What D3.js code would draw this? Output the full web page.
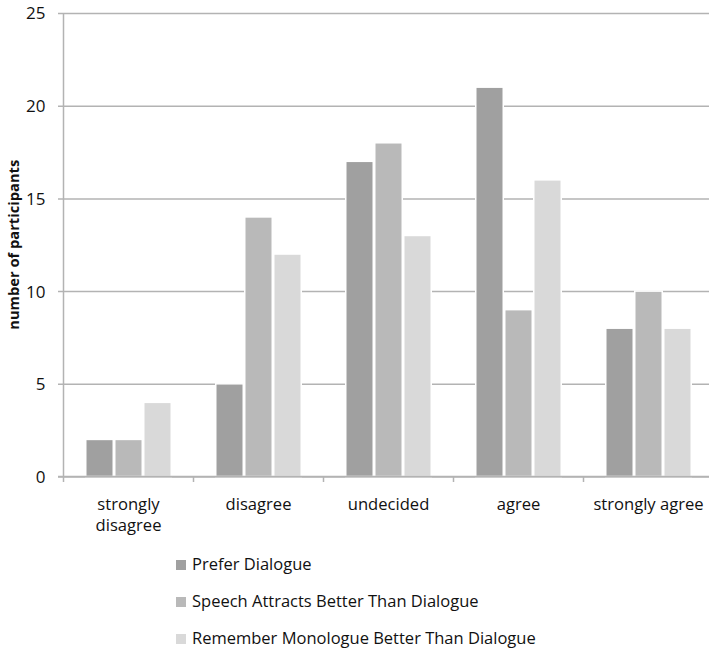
<!DOCTYPE html>
<html>
<head>
<meta charset="utf-8">
<script src="https://cdn.jsdelivr.net/npm/d3@7"></script>
<style>
  html, body { margin: 0; padding: 0; background: #fff; }
  svg { display: block; font-family: "Open Sans", "Liberation Sans", sans-serif; }
</style>
</head>
<body>
<div id="chart"></div>
<script>
// Survey responses per answer category
const categories = ["strongly disagree", "disagree", "undecided", "agree", "strongly agree"];
const categoryLines = [["strongly", "disagree"], ["disagree"], ["undecided"], ["agree"], ["strongly agree"]];
const seriesNames = ["Prefer Dialogue", "Speech Attracts Better Than Dialogue", "Remember Monologue Better Than Dialogue"];
const preferDialogue = [2, 5, 17, 21, 8];
const speechAttracts = [2, 14, 18, 9, 10];
const rememberMonologue = [4, 12, 13, 16, 8];
const yTicks = [0, 5, 10, 15, 20, 25];
const seriesColors = ["#a0a0a0", "#b9b9b9", "#d9d9d9"];

const seriesValues = [preferDialogue, speechAttracts, rememberMonologue];

const width = 709, height = 650;
const plot = { left: 63.5, right: 713.5, top: 13, bottom: 476.5 };
const gridColor = "#b3b3b3";
const textColor = "#111";

const svg = d3.select("#chart").append("svg")
  .attr("width", width).attr("height", height);

const y = d3.scaleLinear().domain([0, 25]).range([plot.bottom, plot.top]);
const x0 = d3.scaleBand().domain(categories).range([plot.left, plot.right]).padding(0);
const groupWidth = 87;
const x1 = d3.scaleBand().domain(seriesNames).range([0, groupWidth]).padding(0);
const groupOffset = (x0.bandwidth() - groupWidth) / 2;

// Horizontal gridlines with the value labels
const yAxis = d3.axisLeft(y).tickValues(yTicks).tickSize(0).tickPadding(0).tickFormat(d3.format("d"));
const gy = svg.append("g").attr("transform", `translate(${plot.left},0)`).call(yAxis);
gy.select(".domain").remove();
gy.selectAll(".tick line")
  .attr("x1", -5.5).attr("x2", plot.right - plot.left)
  .attr("stroke", gridColor).attr("stroke-width", 1.5);
gy.selectAll(".tick text")
  .attr("x", -18).attr("dy", "0.35em")
  .attr("fill", textColor).attr("font-size", 17)
  .attr("font-family", "'Open Sans', sans-serif");

// Bars
const groups = svg.append("g").selectAll("g")
  .data(categories)
  .join("g")
  .attr("transform", d => `translate(${x0(d) + groupOffset},0)`);

groups.selectAll("rect")
  .data((d, i) => seriesNames.map((s, k) => ({ series: s, k, value: seriesValues[k][i] })))
  .join("rect")
  .attr("x", d => x1(d.series) + 0.75)
  .attr("width", x1.bandwidth() - 1.5)
  .attr("y", d => y(d.value))
  .attr("height", d => y(0) - y(d.value))
  .attr("fill", d => seriesColors[d.k])
  .attr("stroke", "#fff")
  .attr("stroke-width", 1.5);

// Value axis line
svg.append("line")
  .attr("x1", plot.left).attr("x2", plot.left)
  .attr("y1", plot.top).attr("y2", plot.bottom)
  .attr("stroke", gridColor).attr("stroke-width", 1.5);

// Category axis: baseline, boundary ticks, labels
svg.append("line")
  .attr("x1", plot.left - 5.5).attr("x2", plot.right)
  .attr("y1", y(0)).attr("y2", y(0))
  .attr("stroke", gridColor).attr("stroke-width", 1.5);

svg.append("g").selectAll("line")
  .data(categories)
  .join("line")
  .attr("x1", d => x0(d)).attr("x2", d => x0(d))
  .attr("y1", y(0)).attr("y2", y(0) + 5.5)
  .attr("stroke", gridColor).attr("stroke-width", 1.5);

const catLabels = svg.append("g").selectAll("text")
  .data(categories)
  .join("text")
  .attr("x", d => x0(d) + x0.bandwidth() / 2)
  .attr("y", 510)
  .attr("text-anchor", "middle")
  .attr("fill", textColor)
  .attr("font-size", 16.6);
catLabels.selectAll("tspan")
  .data((d, i) => categoryLines[i])
  .join("tspan")
  .attr("x", function() { return this.parentNode.getAttribute("x"); })
  .attr("dy", (d, i) => i === 0 ? 0 : 21)
  .text(d => d);

// Value axis title
svg.append("text")
  .attr("transform", `translate(19,${(plot.top + plot.bottom) / 2}) rotate(-90)`)
  .attr("text-anchor", "middle")
  .attr("font-size", 14.7)
  .attr("font-weight", "bold")
  .attr("fill", textColor)
  .text("number of participants");

// Legend
const legend = svg.append("g").selectAll("g")
  .data(seriesNames)
  .join("g")
  .attr("transform", (d, i) => `translate(176,${565 + i * 37})`);
legend.append("rect")
  .attr("x", 0).attr("y", -5).attr("width", 10).attr("height", 10)
  .attr("fill", (d, i) => seriesColors[i]);
legend.append("text")
  .attr("x", 16).attr("dy", "0.33em")
  .attr("font-size", 16.5)
  .attr("fill", textColor)
  .text(d => d);
</script>
</body>
</html>
